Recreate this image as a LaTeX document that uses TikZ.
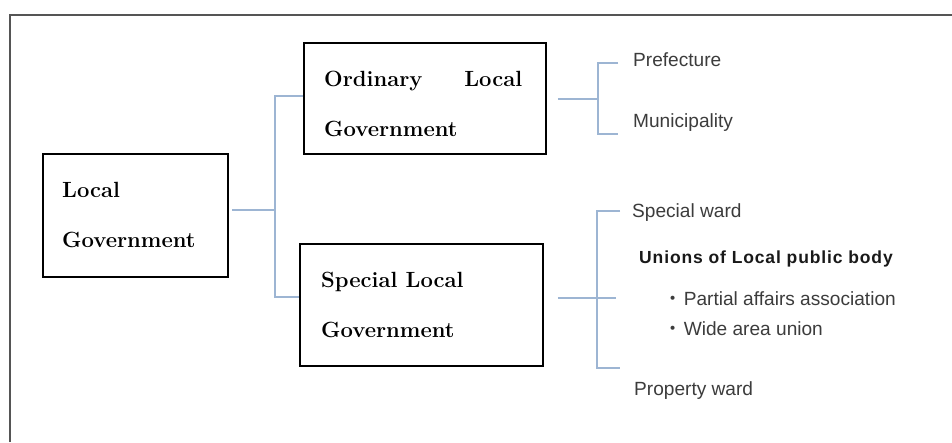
\documentclass[tikz,border=0pt]{standalone}
\usepackage{fontspec}
\newfontfamily\sansf{Liberation Sans}
\newfontfamily\unionfont[LetterSpace=5]{Liberation Sans}
\newfontfamily\jpfont{Noto Sans CJK JP}
\definecolor{connc}{HTML}{9DB5D3}
\definecolor{framec}{HTML}{555555}
\definecolor{graytext}{HTML}{3C3C3C}
\tikzset{
  boxnode/.style={draw=black, line width=1.8pt, rectangle, inner sep=0pt, anchor=north west},
  serifbold/.style={font=\fontsize{22}{26}\selectfont\bfseries, anchor=base west, inner sep=0pt},
  rightlabel/.style={font=\sansf\fontsize{19.1}{23}\selectfont, text=graytext, anchor=base west, inner sep=0pt},
  conn/.style={draw=connc, line width=1.4pt},
  frameline/.style={draw=framec, line width=2.5pt}
}
\begin{document}
\begin{tikzpicture}[x=1pt,y=-1pt]
\useasboundingbox (0,0) rectangle (952,442);
\fill[white] (0,0) rectangle (952,442);
% outer frame (only top and left visible)
\draw[frameline] (10,442) -- (10,15) -- (952,15);

% boxes
\node[boxnode, minimum width=185pt, minimum height=123pt] (lg) at (42,153) {};
\node[boxnode, minimum width=242pt, minimum height=111pt] (ogv) at (303,42) {};
\node[boxnode, minimum width=243pt, minimum height=122pt] (sgv) at (299,243) {};

% box texts
\node[serifbold] (lg1) at (62,197) {Local};
\node[serifbold] (lg2) at (62,247) {Government};
\node[serifbold] (og1) at (324,86) {\makebox[198pt][s]{Ordinary\hfill Local}};
\node[serifbold] (og2) at (324,136) {Government};
\node[serifbold] (sg1) at (321,287) {Special Local};
\node[serifbold] (sg2) at (321,337) {Government};

% right labels
\node[rightlabel] (pref) at (633,66) {Prefecture};
\node[rightlabel] (muni) at (633,127) {Municipality};
\node[rightlabel] (spw) at (632,217) {Special ward};
\node[font=\unionfont\fontsize{17.5}{21}\selectfont\bfseries, text=black!90, anchor=base west, inner sep=0pt] (uni) at (639,263) {Unions of Local public body};
\node[rightlabel] (paa) at (663.5,305) {{\jpfont ・}\hspace{1pt}Partial affairs association};
\node[rightlabel] (wau) at (663.5,335) {{\jpfont ・}\hspace{1pt}Wide area union};
\node[rightlabel] (prw) at (634,395) {Property ward};

% left connectors
\coordinate (jL) at (275,210);
\coordinate (t1) at (275,96);
\coordinate (b1) at (275,297);
\draw[conn] (232,210) -- (jL);
\draw[conn] (ogv.west |- t1) -- (t1) -- (b1) -- (sgv.west |- b1);

% ordinary bracket
\coordinate (oj) at (598,99);
\coordinate (ot) at (598,63);
\coordinate (ob) at (598,134);
\coordinate (ott) at (618,63);
\coordinate (obt) at (618,134);
\draw[conn] ([xshift=11pt]ogv.east |- oj) -- (oj);
\draw[conn] (ott) -- (ot) -- (ob) -- (obt);

% special bracket
\coordinate (sj) at (597,298);
\coordinate (st) at (597,211);
\coordinate (sb) at (597,368);
\coordinate (stt) at (620,211);
\coordinate (sbt) at (620,368);
\coordinate (sje) at (616,298);
\draw[conn] ([xshift=14pt]sgv.east |- sj) -- (sje);
\draw[conn] (stt) -- (st) -- (sb) -- (sbt);
\end{tikzpicture}
\end{document}
